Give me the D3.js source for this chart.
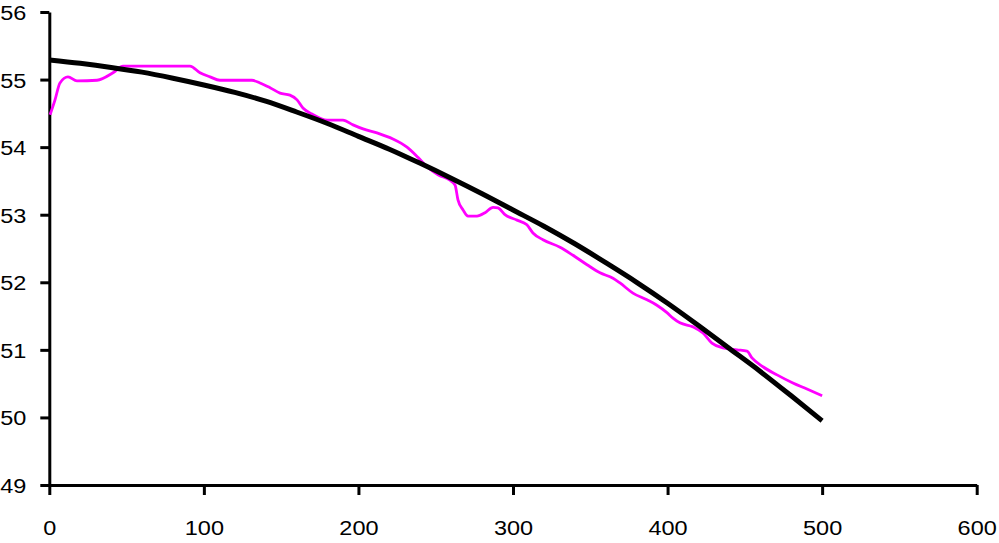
<!DOCTYPE html>
<html>
<head>
<meta charset="utf-8">
<script src="https://cdn.jsdelivr.net/npm/d3@7"></script>
<style>
  html, body { margin: 0; padding: 0; background: #fff; }
  svg { display: block; }
  .tick text { font-family: "Liberation Sans", Arial, sans-serif; font-size: 21px; fill: #000; }
</style>
</head>
<body>
<svg id="chart" width="999" height="543"></svg>
<script>
// ---- data ----
const xTicks = [0, 100, 200, 300, 400, 500, 600];
const yTicks = [49, 50, 51, 52, 53, 54, 55, 56];

const fitX = [0, 20, 40, 60, 80, 100, 120, 140, 160, 180, 200, 220, 240, 260, 280, 300, 320, 340, 360, 380, 400, 420, 440, 460, 480, 500];
const fitY = [55.29, 55.24, 55.18, 55.11, 55.02, 54.92, 54.81, 54.68, 54.52, 54.35, 54.16, 53.97, 53.76, 53.54, 53.31, 53.07, 52.83, 52.57, 52.29, 52.00, 51.69, 51.36, 51.02, 50.68, 50.32, 49.95];

const measX = [0.5, 3.7, 6.9, 12.1, 17.9, 30.9, 41.2, 47.7, 91.0, 97.5, 104.0, 110.4, 131.1, 136.3, 142.8, 149.3, 155.7, 160.3, 164.1, 170.0, 179.7, 190.0, 196.5, 203.0, 212.0, 222.3, 231.4, 238.5, 244.4, 251.5, 259.2, 262.5, 264.4, 267.7, 270.9, 276.7, 281.9, 287.1, 290.3, 294.8, 302.6, 309.0, 312.9, 319.4, 330.4, 338.8, 347.9, 356.3, 364.7, 369.2, 377.6, 386.7, 393.1, 399.6, 403.5, 408.0, 416.5, 422.9, 428.7, 435.8, 444.9, 451.4, 454.6, 461.7, 470.8, 481.1, 490.2, 500.0];
const measY = [54.48, 54.70, 54.95, 55.04, 54.98, 54.99, 55.10, 55.20, 55.20, 55.10, 55.04, 54.99, 54.99, 54.95, 54.88, 54.80, 54.77, 54.70, 54.58, 54.49, 54.40, 54.40, 54.33, 54.27, 54.21, 54.12, 54.00, 53.85, 53.71, 53.59, 53.51, 53.44, 53.22, 53.07, 52.98, 52.98, 53.03, 53.11, 53.10, 53.00, 52.92, 52.85, 52.73, 52.63, 52.52, 52.40, 52.26, 52.14, 52.06, 51.99, 51.84, 51.74, 51.66, 51.55, 51.47, 51.40, 51.34, 51.25, 51.10, 51.03, 51.00, 50.98, 50.88, 50.75, 50.63, 50.51, 50.42, 50.32];

// ---- layout ----
const svg = d3.select("#chart");
const mLeft = 49.3, mRight = 976.7, mTop = 12, mBottom = 485;
const stretch = 1.12;

const x = d3.scaleLinear().domain([0, 600]).range([mLeft, mRight]);
const y = d3.scaleLinear().domain([49, 56]).range([mBottom, mTop]);

const xAxis = d3.axisBottom(x).tickValues(xTicks).tickSize(10).tickPadding(25).tickSizeOuter(0).tickFormat(d3.format("d"));
const yAxis = d3.axisLeft(y).tickValues(yTicks).tickSize(9).tickPadding(13).tickSizeOuter(0).tickFormat(d3.format("d"));

const gx = svg.append("g").attr("transform", `translate(0,${mBottom})`).call(xAxis);
const gy = svg.append("g").attr("transform", `translate(${mLeft},0)`).call(yAxis);
[gx, gy].forEach(g => {
  g.select(".domain").attr("stroke", "#000").attr("stroke-width", 3);
  g.selectAll(".tick line").attr("stroke", "#000").attr("stroke-width", 3);
});
gx.selectAll(".tick text").attr("transform", `scale(${stretch},1)`);
gy.selectAll(".tick text").attr("dy", "0.36em").attr("x", -23 / stretch).attr("transform", `scale(${stretch},1)`);

const line = d3.line().x(d => x(d[0])).y(d => y(d[1])).curve(d3.curveMonotoneX);

const meas = measX.map((v, i) => [v, measY[i]]);
const fit = fitX.map((v, i) => [v, fitY[i]]);

svg.append("path").datum(meas)
  .attr("fill", "none").attr("stroke", "#ff00ff").attr("stroke-width", 2.8)
  .attr("stroke-linejoin", "round").attr("d", line);

svg.append("path").datum(fit)
  .attr("fill", "none").attr("stroke", "#000").attr("stroke-width", 5)
  .attr("stroke-linejoin", "round").attr("d", line);
</script>
</body>
</html>
